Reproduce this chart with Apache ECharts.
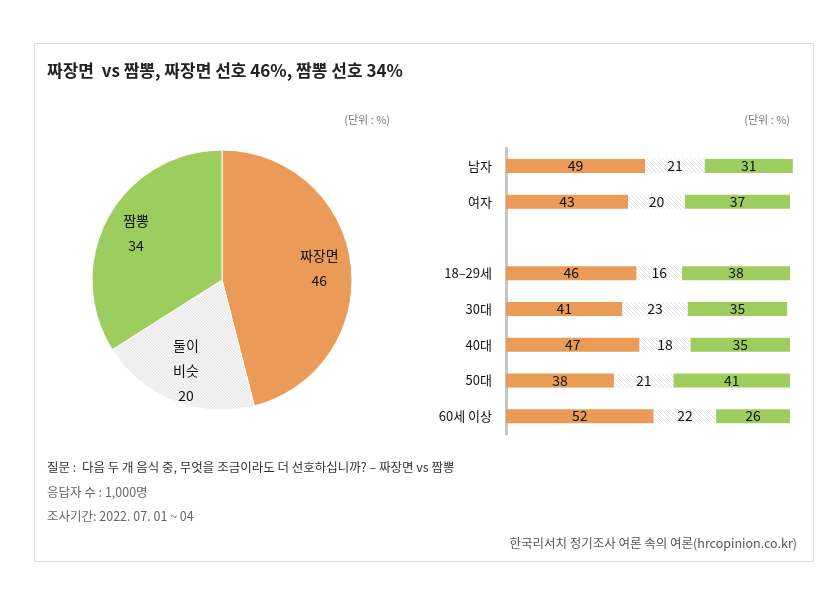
<!DOCTYPE html>
<html><head><meta charset="utf-8">
<script src="https://cdn.jsdelivr.net/npm/echarts@6/dist/echarts.min.js"></script>
<style>html,body{margin:0;padding:0;background:#fff}#c{width:828px;height:607px}</style>
</head><body><div id="c"></div>
<script>
// ---- data ----
const pieNames = ['짜장면', '둘이\n비슷', '짬뽕'];
const pieValues = [46, 20, 34];

const barCategories = ['남자', '여자', '', '18–29세', '30대', '40대', '50대', '60세 이상'];
const jjajang = [49, 43, null, 46, 41, 47, 38, 52];
const similar = [21, 20, null, 16, 23, 18, 21, 22];
const jjamppong = [31, 37, null, 38, 35, 35, 41, 26];

const titleText = '짜장면  vs 짬뽕, 짜장면 선호 46%, 짬뽕 선호 34%';
const unitText = '(단위 : %)';
const noteLines = ['질문 :  다음 두 개 음식 중, 무엇을 조금이라도 더 선호하십니까? – 짜장면 vs 짬뽕', '응답자 수 : 1,000명', '조사기간: 2022. 07. 01 ~ 04'];
const sourceText = '한국리서치 정기조사 여론 속의 여론(hrcopinion.co.kr)';

// ---- style ----
const ORANGE = '#E99B57';
const GREEN = '#9DCD5F';
const FONT = '"Noto Sans CJK KR", "Noto Sans", sans-serif';

function hatch(bg, line, size, width) {
  const c = document.createElement('canvas');
  c.width = size; c.height = size;
  const g = c.getContext('2d');
  g.fillStyle = bg; g.fillRect(0, 0, size, size);
  g.strokeStyle = line; g.lineWidth = width;
  g.beginPath();
  g.moveTo(0, 0); g.lineTo(size, size);
  g.moveTo(-size, 0); g.lineTo(size, 2 * size);
  g.moveTo(0, -size); g.lineTo(2 * size, size);
  g.stroke();
  return { image: c, repeat: 'repeat' };
}
const barHatch = hatch('#ffffff', '#e2e2e2', 4, 1);
const pieHatch = hatch('#f5f5f5', '#e4e4e4', 3, 1);

const chart = echarts.init(document.getElementById('c'), null, { renderer: 'canvas' });

const pieData = pieNames.map((n, i) => ({
  name: n, value: pieValues[i],
  itemStyle: { color: [ORANGE, pieHatch, GREEN][i] }
}));

const barLabel = {
  show: true, position: 'inside', color: '#111', fontSize: 14, fontFamily: FONT,
  formatter: p => (p.value == null ? '' : p.value)
};

chart.setOption({
  animation: false,
  backgroundColor: '#fff',
  textStyle: { fontFamily: FONT },
  graphic: [
    { type: 'rect', shape: { x: 34.5, y: 43.5, width: 779, height: 518 },
      style: { fill: 'none', stroke: '#dcdcdc', lineWidth: 1 }, z: -1 },
    { type: 'text', left: 47, top: 62, style: { text: titleText, font: 'bold 17px ' + FONT, fill: '#222' } },
    { type: 'text', right: 828 - 390, top: 114, style: { text: unitText, font: '11px ' + FONT, fill: '#777' } },
    { type: 'text', right: 828 - 790, top: 114, style: { text: unitText, font: '11px ' + FONT, fill: '#777' } },
    { type: 'text', left: 47, top: 461, style: { text: noteLines[0], font: '12.5px ' + FONT, fill: '#333' } },
    { type: 'text', left: 47, top: 486, style: { text: noteLines[1], font: '12.5px ' + FONT, fill: '#666' } },
    { type: 'text', left: 47, top: 510, style: { text: noteLines[2], font: '12.5px ' + FONT, fill: '#666' } },
    { type: 'text', right: 828 - 797, top: 537, style: { text: sourceText, font: '12.5px ' + FONT, fill: '#555' } }
  ],
  grid: { left: 506, top: 148, width: 289.7, height: 286 },
  xAxis: { type: 'value', min: 0, max: 102, show: false },
  yAxis: {
    type: 'category', data: barCategories, inverse: true,
    axisLine: { show: true, lineStyle: { color: '#c6c6c6', width: 3 } },
    axisTick: { show: false },
    axisLabel: { color: '#111', fontSize: 13, margin: 14, fontFamily: FONT }
  },
  series: [
    { type: 'pie', center: [222, 280], radius: 130, startAngle: 90, clockwise: true,
      data: pieData, label: { show: false }, labelLine: { show: false },
      itemStyle: { borderColor: '#fff', borderWidth: 1 }, silent: true },
    { type: 'pie', center: [222, 280], radius: [60, 130], startAngle: 90, clockwise: true,
      data: pieNames.map((n, i) => ({ name: n, value: pieValues[i] })),
      itemStyle: { color: 'rgba(0,0,0,0)' }, silent: true, z: 3,
      label: { show: true, position: 'inside', formatter: '{b}\n{c}', color: '#111',
        fontSize: 14, lineHeight: 25, fontFamily: FONT },
      labelLine: { show: false } },
    { type: 'bar', stack: 's', data: jjajang, barWidth: 14, itemStyle: { color: ORANGE }, label: barLabel },
    { type: 'bar', stack: 's', data: similar, barWidth: 14, itemStyle: { color: barHatch }, label: barLabel },
    { type: 'bar', stack: 's', data: jjamppong, barWidth: 14, itemStyle: { color: GREEN }, label: barLabel }
  ]
});
</script></body></html>
